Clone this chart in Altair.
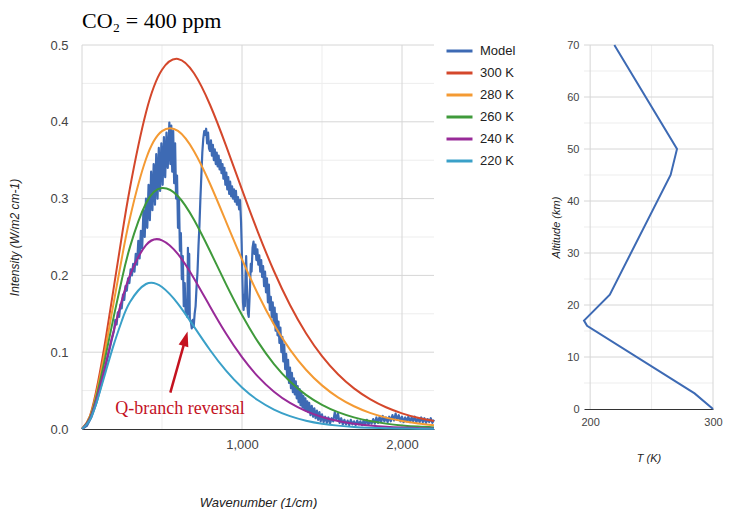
import altair as alt
import pandas as pd

# ---------------- data ----------------
SERIES = ["Model", "300 K", "280 K", "260 K", "240 K", "220 K"]
COLORS = ["#3d6ab4", "#d4472b", "#f49a33", "#3f9a3b", "#982a98", "#3aa0c8"]

# Planck-curve readings (wavenumber knots and intensity per temperature)
PLANCK_NU = [0, 50, 100, 150, 200, 250, 300, 400, 500, 600, 700, 800, 900, 1000,
             1100, 1200, 1300, 1400, 1500, 1600, 1700, 1800, 1900, 2000, 2100, 2200]
B300 = [0, 0.0173, 0.0608, 0.1199, 0.1860, 0.2524, 0.3142, 0.4121, 0.4677, 0.4819, 0.4632,
        0.4222, 0.3690, 0.3117, 0.2561, 0.2054, 0.1614, 0.1247, 0.0949, 0.0713, 0.0529,
        0.0389, 0.0283, 0.0204, 0.0146, 0.0104]
B280 = [0, 0.0160, 0.0557, 0.1087, 0.1668, 0.2237, 0.2751, 0.3516, 0.3879, 0.3881, 0.3616,
        0.3193, 0.2701, 0.2208, 0.1754, 0.1360, 0.1034, 0.0772, 0.0568, 0.0412, 0.0296,
        0.0210, 0.0148, 0.0103, 0.0071, 0.0049]
B260 = [0, 0.0147, 0.0506, 0.0976, 0.1479, 0.1956, 0.2371, 0.2939, 0.3137, 0.3031, 0.2724,
        0.2317, 0.1887, 0.1484, 0.1134, 0.0846, 0.0618, 0.0444, 0.0314, 0.0219, 0.0151,
        0.0103, 0.0070, 0.0047, 0.0031, 0.0021]
B240 = [0, 0.0134, 0.0456, 0.0866, 0.1292, 0.1682, 0.2004, 0.2394, 0.2457, 0.2277, 0.1961,
        0.1596, 0.1243, 0.0935, 0.0682, 0.0486, 0.0339, 0.0233, 0.0157, 0.0105, 0.0069,
        0.0045, 0.0029, 0.0019, 0.0012, 0.0007]
B220 = [0, 0.0121, 0.0405, 0.0758, 0.1109, 0.1416, 0.1653, 0.1888, 0.1848, 0.1630, 0.1333,
        0.1029, 0.0760, 0.0541, 0.0374, 0.0253, 0.0167, 0.0108, 0.0069, 0.0044, 0.0027,
        0.0017, 0.0010, 0.0006, 0.0004, 0.0002]

# Model spectrum readings, [wavenumber, intensity]
MODEL_LOW = [[0, 0.000], [30, 0.004], [60, 0.016], [90, 0.034], [120, 0.057], [150, 0.084],
             [170, 0.102], [185, 0.116]]
MODEL_H2O = [[200, .128], [208, .142], [216, .136], [224, .152], [232, .146], [240, .162],
             [248, .157], [256, .175], [264, .168], [272, .186], [280, .180], [288, .196],
             [296, .190], [304, .208], [312, .200], [320, .215], [328, .205], [336, .228],
             [344, .214], [352, .245], [360, .222], [368, .258], [376, .235], [384, .285],
             [392, .250], [400, .300], [408, .262], [416, .318], [424, .272], [432, .335],
             [440, .285], [448, .345], [456, .292], [464, .358], [472, .300], [480, .366],
             [488, .310], [496, .372], [504, .318], [512, .380], [520, .328], [528, .386],
             [536, .340], [546, .399], [552, .345], [558, .395], [564, .335], [570, .388],
             [576, .320], [582, .372]]
MODEL_CO2 = [[588, .300], [594, .330], [600, .262], [606, .300], [612, .232], [618, .255],
             [624, .195], [630, .225], [636, .160], [642, .190], [648, .150], [654, .162],
             [658, .146], [662, .236], [666, .150], [670, .228], [674, .142], [680, .140],
             [686, .131], [692, .142], [698, .133], [704, .150], [710, .160], [716, .185],
             [722, .205], [728, .238], [734, .265], [740, .300], [746, .330], [752, .360],
             [758, .378], [764, .388], [770, .383], [776, .391], [782, .372], [788, .386],
             [794, .365]]
MODEL_WINDOW = [[800, .362], [806, .376], [812, .356], [818, .370], [824, .350], [830, .364],
                [836, .345], [842, .360], [848, .342], [854, .356], [860, .338], [866, .350],
                [872, .333], [878, .345], [884, .326], [890, .340], [896, .318], [902, .334],
                [908, .312], [914, .328], [920, .306], [926, .322], [932, .303], [938, .316],
                [944, .300], [950, .312], [956, .296], [962, .310], [968, .292], [975, .302],
                [982, .286], [988, .298], [994, .270]]
MODEL_O3 = [[998, .240], [1002, .200], [1006, .165], [1010, .155], [1014, .175], [1018, .160],
            [1022, .200], [1026, .225], [1030, .190], [1034, .160], [1038, .150], [1042, .146],
            [1046, .165], [1050, .185], [1055, .215], [1060, .205], [1066, .236], [1072, .244],
            [1078, .228], [1084, .240], [1090, .220], [1096, .234], [1102, .214], [1108, .226],
            [1114, .205], [1120, .220], [1126, .198], [1132, .212], [1138, .186], [1144, .205],
            [1150, .178], [1156, .196], [1162, .165], [1168, .188], [1174, .155], [1180, .172],
            [1186, .146], [1192, .165], [1198, .138], [1204, .158], [1210, .128], [1216, .150],
            [1222, .122], [1228, .140], [1234, .112], [1240, .132], [1246, .100], [1252, .120],
            [1258, .088], [1264, .110], [1270, .078], [1276, .098], [1282, .068], [1288, .090],
            [1294, .060], [1300, .080], [1306, .053], [1312, .073], [1318, .048], [1324, .066],
            [1330, .045], [1336, .062], [1342, .040], [1348, .056], [1354, .035], [1360, .052],
            [1366, .031], [1372, .047], [1378, .028], [1384, .043], [1390, .026], [1396, .040],
            [1402, .024], [1408, .036], [1414, .022], [1420, .034], [1428, .018], [1436, .030],
            [1444, .016], [1452, .027], [1460, .014], [1468, .024], [1476, .012], [1484, .022],
            [1492, .010]]
MODEL_TAIL = [[1500, .019], [1510, .009], [1520, .016], [1530, .008], [1540, .015], [1550, .007],
              [1560, .014], [1570, .010], [1580, .022], [1590, .012], [1600, .020], [1610, .008],
              [1620, .014], [1630, .006], [1640, .012], [1650, .006], [1660, .011], [1670, .005],
              [1680, .012], [1690, .006], [1700, .010], [1710, .005], [1720, .011], [1730, .006],
              [1740, .010], [1750, .005], [1760, .011], [1770, .006], [1780, .012], [1790, .006],
              [1800, .010], [1810, .007], [1820, .013], [1830, .007], [1840, .015], [1850, .008],
              [1860, .016], [1870, .009], [1880, .017], [1890, .010], [1900, .015], [1910, .009],
              [1920, .016], [1930, .010], [1940, .018], [1950, .011], [1960, .020], [1970, .012],
              [1980, .018], [1990, .010], [2000, .016], [2010, .009], [2020, .015], [2030, .010],
              [2040, .016], [2050, .009], [2060, .015], [2070, .010], [2080, .016], [2090, .009],
              [2100, .014], [2110, .009], [2120, .015], [2130, .009], [2140, .014], [2150, .008],
              [2160, .013], [2170, .009], [2180, .014], [2190, .008], [2200, .012]]

# Temperature profile
PROFILE_ALT = [0, 3, 16, 17, 22, 45, 50, 70]
PROFILE_T = [300, 285, 197.5, 195, 216, 265.5, 270.7, 219.7]

# Axis tick / grid values
LEFT_X_LABELS = [1000, 2000]
LEFT_Y_LABELS = [0, 0.1, 0.2, 0.3, 0.4, 0.5]
LEFT_X_MAJOR = [0, 1000, 2000]
LEFT_X_MINOR = [500, 1500]
LEFT_Y_MAJOR = [0.1, 0.2, 0.3, 0.4, 0.5]
LEFT_Y_MINOR = [0.05, 0.15, 0.25, 0.35, 0.45]
RIGHT_X_LABELS = [200, 300]
RIGHT_Y_LABELS = [0, 10, 20, 30, 40, 50, 60, 70]
RIGHT_X_MAJOR = [200, 300]
RIGHT_X_MINOR = [250]
RIGHT_Y_MAJOR = [10, 20, 30, 40, 50, 60, 70]
RIGHT_Y_MINOR = [5, 15, 25, 35, 45, 55, 65]

# Annotation
ANNOT_LABEL = ["Q-branch reversal"]
ANNOT_NU = [612]
ANNOT_VAL = [0.020]
ARROW_TAIL = [552, 0.0473]
ARROW_HEAD = [647, 0.1176]

# ---------------- styling ----------------
SANS = "Liberation Sans"
SERIF = "Liberation Serif"
MAJOR = "#d6d6d6"
MINOR = "#ededed"
RED = "#c4121f"

x_axis = alt.Axis(values=LEFT_X_LABELS, format=",.0f", title="Wavenumber (1/cm)", grid=False,
                  ticks=False, domain=True, domainColor="#333333", domainWidth=1,
                  labelFont=SANS, labelFontSize=13, labelColor="#444444", labelPadding=9,
                  labelFlush=False,
                  titleFont=SANS, titleFontSize=13, titleFontStyle="italic",
                  titleFontWeight="normal", titleColor="#222222", titlePadding=45)
y_axis = alt.Axis(values=LEFT_Y_LABELS, format=".1f", title="Intensity (W/m2 cm-1)", grid=False,
                  ticks=False, domain=False, labelFont=SANS, labelFontSize=13,
                  labelColor="#444444", labelPadding=14, titleFont=SANS, titleFontSize=12,
                  titleFontStyle="italic", titleFontWeight="normal", titleColor="#222222",
                  titlePadding=28)
xs = alt.Scale(domain=[0, 2200], nice=False, zero=False)
ys = alt.Scale(domain=[0, 0.5], nice=False)
cs = alt.Scale(domain=SERIES, range=COLORS)

legend = alt.Legend(title=None, orient="none", legendX=369.5, legendY=-2,
                    symbolType="M-2,0H2", symbolSize=169, symbolStrokeWidth=3,
                    labelFont=SANS, labelFontSize=13, labelColor="#222222",
                    labelOffset=12.5, rowPadding=7, padding=0)


def X(field):
    return alt.X(f"{field}:Q", scale=xs, axis=x_axis)


def Y(field):
    return alt.Y(f"{field}:Q", scale=ys, axis=y_axis)


def pairs_df(pairs, name):
    return pd.DataFrame({"nu": [p[0] for p in pairs], "val": [p[1] for p in pairs],
                         "series": name})


model_df = pairs_df(MODEL_LOW + MODEL_H2O + MODEL_CO2 + MODEL_WINDOW + MODEL_O3 + MODEL_TAIL,
                    "Model")
planck_dfs = [pd.DataFrame({"nu": PLANCK_NU, "val": vals, "series": name})
              for name, vals in zip(SERIES[1:], [B300, B280, B260, B240, B220])]

left_layers = [
    alt.Chart(pd.DataFrame({"v": LEFT_X_MINOR})).mark_rule(color=MINOR, strokeWidth=1).encode(x=X("v")),
    alt.Chart(pd.DataFrame({"v": LEFT_Y_MINOR})).mark_rule(color=MINOR, strokeWidth=1).encode(y=Y("v")),
    alt.Chart(pd.DataFrame({"v": LEFT_X_MAJOR})).mark_rule(color=MAJOR, strokeWidth=1).encode(x=X("v")),
    alt.Chart(pd.DataFrame({"v": LEFT_Y_MAJOR})).mark_rule(color=MAJOR, strokeWidth=1).encode(y=Y("v")),
    alt.Chart(model_df).mark_line(strokeWidth=2.2, strokeJoin="round").encode(
        x=X("nu"), y=Y("val"), color=alt.Color("series:N", scale=cs, legend=legend)),
]
for df in planck_dfs:
    left_layers.append(
        alt.Chart(df).mark_line(strokeWidth=2, interpolate="natural").encode(
            x=X("nu"), y=Y("val"), color=alt.Color("series:N", scale=cs, legend=legend)))

annot_df = pd.DataFrame({"nu": ANNOT_NU, "val": ANNOT_VAL, "label": ANNOT_LABEL})
arrow_df = pd.DataFrame({"nu": [ARROW_TAIL[0]], "val": [ARROW_TAIL[1]],
                         "nu2": [ARROW_HEAD[0]], "val2": [ARROW_HEAD[1]]})
head_df = pd.DataFrame({"nu": [ARROW_HEAD[0]], "val": [ARROW_HEAD[1]]})

left_layers += [
    alt.Chart(annot_df).mark_text(font=SERIF, fontSize=18, color=RED, align="center",
                                  baseline="alphabetic").encode(x=X("nu"), y=Y("val"), text="label:N"),
    alt.Chart(arrow_df).mark_rule(color=RED, strokeWidth=2.5).encode(
        x=X("nu"), y=Y("val"), x2="nu2:Q", y2="val2:Q"),
    alt.Chart(head_df).mark_point(shape="M0,-1L0.67,1L-0.67,1Z", filled=True, size=225,
                                  angle=15.7, color=RED, opacity=1).encode(x=X("nu"), y=Y("val")),
]

left = alt.layer(*left_layers).properties(
    width=352, height=384,
    title=alt.TitleParams("CO₂ = 400 ppm", anchor="start", frame="group", font=SERIF,
                          fontSize=22, fontWeight="normal", color="#000000", offset=6))

# ---------------- right panel ----------------
rxs = alt.Scale(domain=[195, 300], nice=False, zero=False)
rys = alt.Scale(domain=[0, 70], nice=False)
rx_axis = alt.Axis(values=RIGHT_X_LABELS, format="d", title="T (K)", grid=False, ticks=False,
                   domain=True, domainColor="#333333", domainWidth=1, labelFont=SANS,
                   labelFontSize=11, labelColor="#444444", labelPadding=7, labelFlush=False,
                   titleFont=SANS,
                   titleFontSize=11, titleFontStyle="italic", titleFontWeight="normal",
                   titleColor="#222222", titlePadding=25)
ry_axis = alt.Axis(values=RIGHT_Y_LABELS, format="d", title="Altitude (km)", grid=False,
                   ticks=False, domain=False, labelFont=SANS, labelFontSize=11,
                   labelColor="#444444", labelPadding=5, labelFlush=False, titleFont=SANS,
                   titleFontSize=11, titleFontStyle="italic", titleFontWeight="normal",
                   titleColor="#222222", titlePadding=5)


def RX(field):
    return alt.X(f"{field}:Q", scale=rxs, axis=rx_axis)


def RY(field):
    return alt.Y(f"{field}:Q", scale=rys, axis=ry_axis)


profile_df = pd.DataFrame({"T": PROFILE_T, "alt": PROFILE_ALT})
right = alt.layer(
    alt.Chart(pd.DataFrame({"v": RIGHT_X_MINOR})).mark_rule(color=MINOR, strokeWidth=1).encode(x=RX("v")),
    alt.Chart(pd.DataFrame({"v": RIGHT_Y_MINOR})).mark_rule(color=MINOR, strokeWidth=1).encode(y=RY("v")),
    alt.Chart(pd.DataFrame({"v": RIGHT_X_MAJOR})).mark_rule(color=MAJOR, strokeWidth=1).encode(x=RX("v")),
    alt.Chart(pd.DataFrame({"v": RIGHT_Y_MAJOR})).mark_rule(color=MAJOR, strokeWidth=1).encode(y=RY("v")),
    alt.Chart(profile_df).mark_line(color=COLORS[0], strokeWidth=2).encode(
        x=RX("T"), y=RY("alt"), order=alt.Order("alt:Q")),
).properties(width=129, height=364)

chart = alt.hconcat(left, right, spacing=34,
                    padding={"top": 2, "left": 0, "right": 0, "bottom": 0}).resolve_scale(
    color="independent").resolve_legend(color="independent").configure_view(stroke=None)

chart.save("out.html", embed_options={"renderer": "svg", "actions": False})
